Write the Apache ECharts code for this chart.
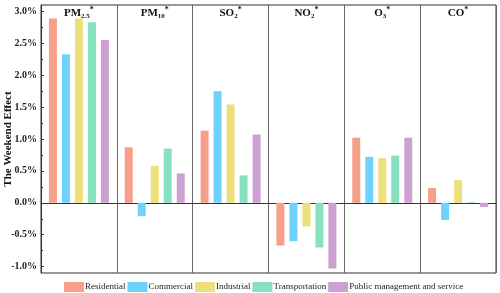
<!DOCTYPE html>
<html>
<head>
<meta charset="utf-8">
<script src="https://cdn.jsdelivr.net/npm/echarts@6/dist/echarts.min.js"></script>
<style>html,body{margin:0;padding:0;background:#fff}#c{width:500px;height:293px}</style>
</head>
<body>
<div id="c"></div>
<script>
const categories = ['PM2.5', 'PM10', 'SO2', 'NO2', 'O3', 'CO'];
const seriesNames = ['Residential', 'Commercial', 'Industrial', 'Transportation', 'Public management and service'];
const residential    = [2.89, 0.87, 1.13, -0.67, 1.02, 0.23];
const commercial     = [2.33, -0.21, 1.75, -0.60, 0.72, -0.27];
const industrial     = [2.89, 0.58, 1.54, -0.37, 0.70, 0.355];
const transportation = [2.83, 0.85, 0.43, -0.70, 0.74, 0.01];
const publicService  = [2.55, 0.46, 1.07, -1.03, 1.02, -0.065];
const majorTicks = [-1.0, -0.5, 0.0, 0.5, 1.0, 1.5, 2.0, 2.5, 3.0];
const minorTicks = [-0.75, -0.25, 0.25, 0.75, 1.25, 1.75, 2.25, 2.75];
const colors = ['#F79F88', '#6DD3FC', '#EEDF7D', '#87E0BE', '#CDA0D3'];
const allValues = [residential, commercial, industrial, transportation, publicService];

const serif = 'Liberation Serif';
const chart = echarts.init(document.getElementById('c'), null, {renderer: 'canvas'});

function catLabel(v) {
  const m = v.match(/^([A-Z]+)([\d.]*)$/);
  if (m && m[2]) return '{b|' + m[1] + '}{s|' + m[2] + '}{p|*}';
  return '{b|' + v + '}{p|*}';
}

const option = {
  animation: false,
  color: colors,
  grid: {left: 41, right: 4, top: 5, bottom: 20, show: true, borderColor: '#333', borderWidth: 1, containLabel: false, outerBoundsMode: 'none'},
  legend: {
    data: seriesNames,
    left: 59, top: 277, width: 440,
    itemWidth: 20, itemHeight: 10, itemGap: 2,
    icon: 'rect',
    textStyle: {fontFamily: serif, fontSize: 9, color: '#222', padding: [0, 0, 0, -4]}
  },
  xAxis: [{
    type: 'category', data: categories,
    axisLine: {onZero: true, lineStyle: {color: '#333', width: 1}},
    axisTick: {show: false},
    axisLabel: {show: false},
    splitLine: {show: true, interval: 0, lineStyle: {color: '#666', width: 1}}
  }, {
    type: 'category', data: categories, position: 'top',
    axisLine: {show: false}, axisTick: {show: false},
    splitLine: {show: false},
    axisLabel: {
      inside: true, margin: 1, interval: 0,
      formatter: catLabel,
      rich: {
        b: {fontFamily: serif, fontWeight: 'bold', fontSize: 11, color: '#111', lineHeight: 14},
        s: {fontFamily: serif, fontWeight: 'bold', fontSize: 7, color: '#111', verticalAlign: 'bottom', lineHeight: 14, padding: [6, 0, 0, 0]},
        p: {fontFamily: serif, fontWeight: 'bold', fontSize: 8, color: '#111', verticalAlign: 'top', lineHeight: 14}
      }
    }
  }],
  yAxis: [{
    type: 'value', min: -1.1, max: 3.1,
    name: 'The Weekend Effect', nameLocation: 'middle', nameGap: 27, nameMoveOverlap: false,
    nameTextStyle: {fontFamily: serif, fontWeight: 'bold', fontSize: 11, color: '#111'},
    axisLine: {show: true, lineStyle: {color: '#333'}},
    axisTick: {show: true, inside: true, length: 3, customValues: majorTicks, lineStyle: {color: '#333'}},
    axisLabel: {customValues: majorTicks, formatter: v => v.toFixed(1) + '%', fontFamily: serif, fontWeight: 'bold', fontSize: 10, color: '#222', margin: 4},
    splitLine: {show: false}
  }, {
    type: 'value', min: -1.1, max: 3.1, position: 'left',
    axisLine: {show: false},
    axisTick: {show: true, inside: true, length: 2, customValues: minorTicks, lineStyle: {color: '#333'}},
    axisLabel: {show: false},
    splitLine: {show: false}
  }],
  series: seriesNames.map((n, i) => ({
    name: n, type: 'bar', data: allValues[i],
    barWidth: 8, barGap: '62.5%',
    itemStyle: {color: colors[i]}
  }))
};
chart.setOption(option);
</script>
</body>
</html>
